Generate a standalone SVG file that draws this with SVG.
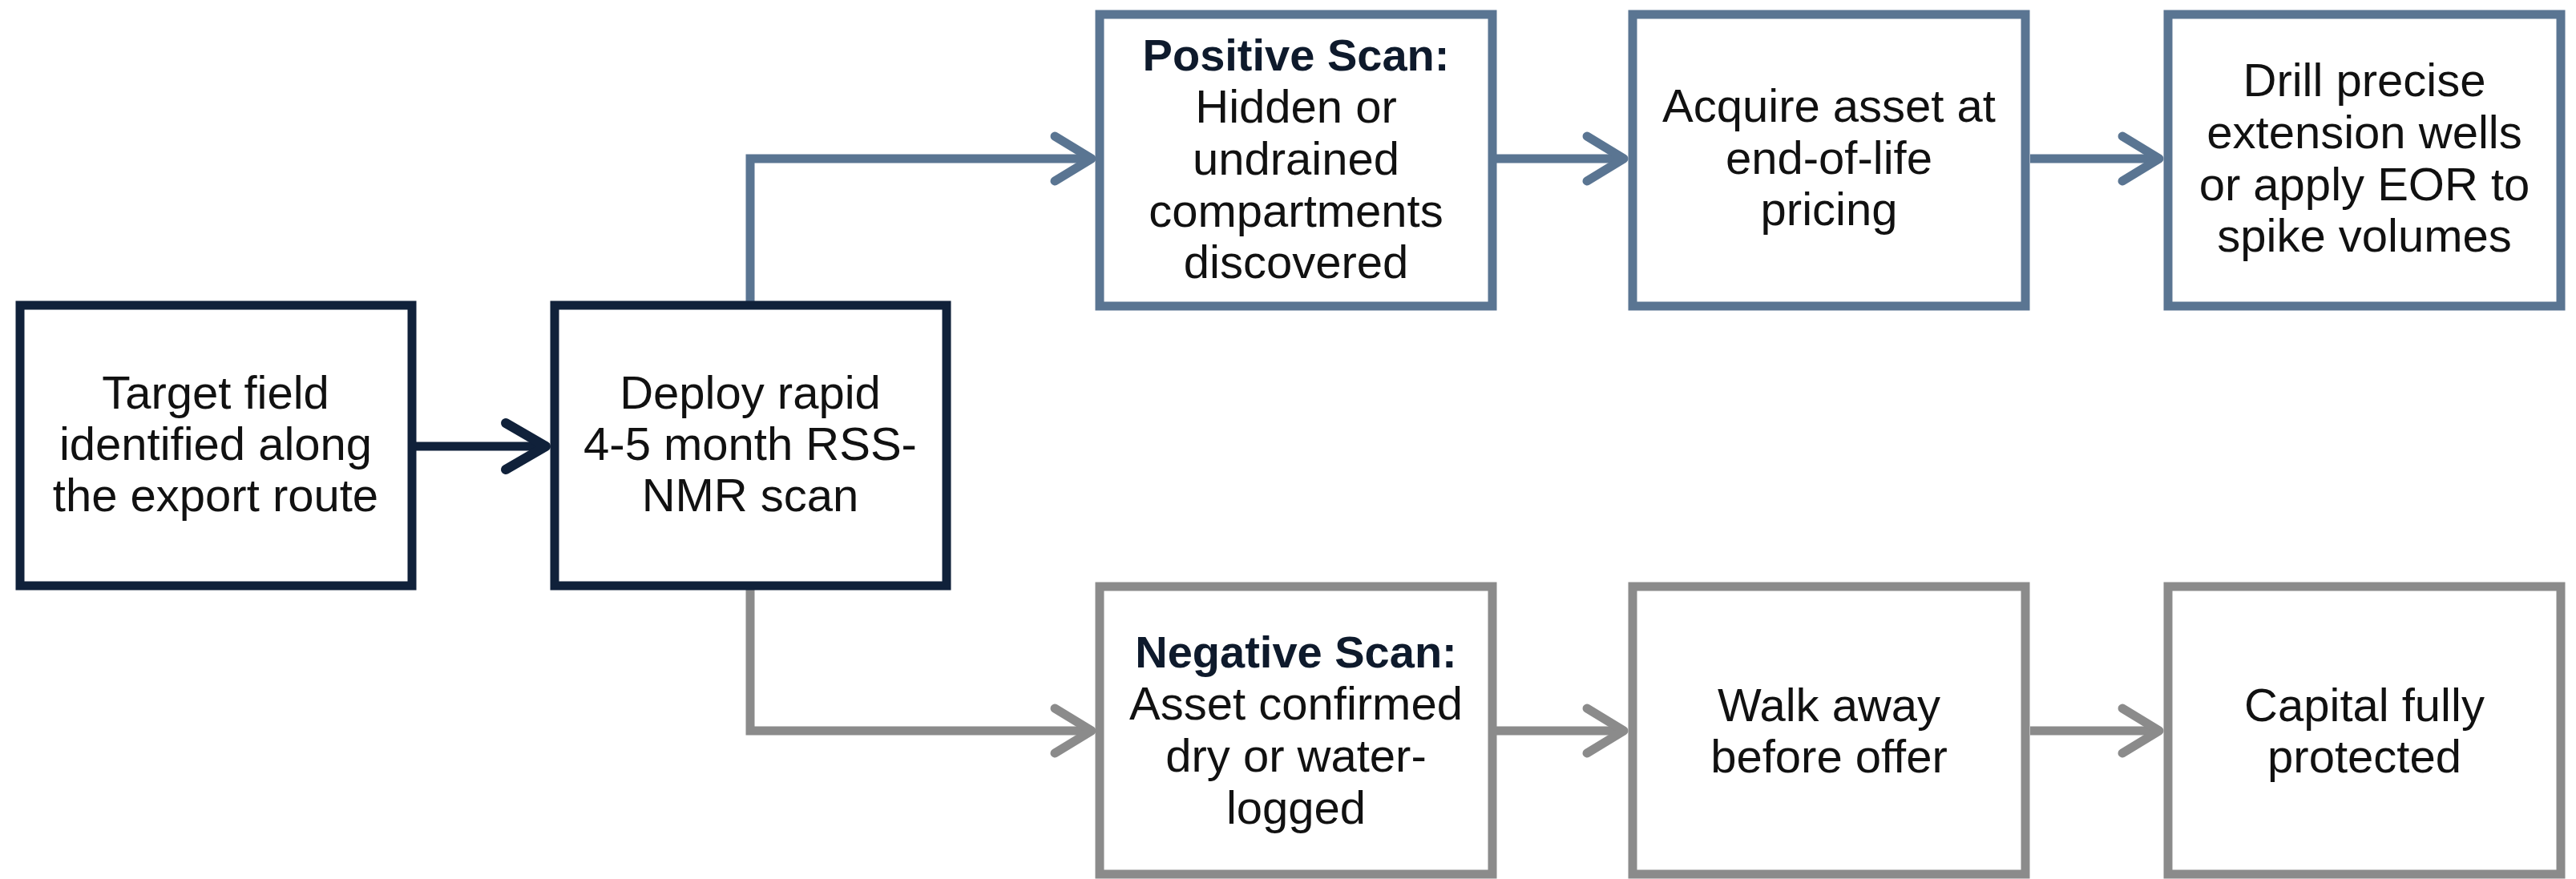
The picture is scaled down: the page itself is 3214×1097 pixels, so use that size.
<svg xmlns="http://www.w3.org/2000/svg" width="3214" height="1097" viewBox="0 0 3214 1097">
  <style>
    .box { fill: #ffffff; stroke-width: 11; }
    .navy { stroke: #10213a; }
    .steel { stroke: #5a7592; }
    .gray { stroke: #8b8b8b; }
    .conn { fill: none; stroke-width: 11; stroke-linejoin: miter; }
    .t { font-family: "Liberation Sans", Arial, Helvetica, sans-serif; font-size: 58px; fill: #111111; text-anchor: middle; }
    .b { font-weight: bold; font-size: 56px; fill: #0e1a2c; }
  </style>
  <defs>
    <marker id="ahNavy" markerUnits="userSpaceOnUse" viewBox="-60 -40 70 80" markerWidth="70" markerHeight="80" refX="0" refY="0" orient="auto" overflow="visible">
      <path d="M-50,-29 L0,0 L-50,29" fill="none" stroke="#10213a" stroke-width="12" stroke-linecap="round" stroke-linejoin="round"/>
    </marker>
    <marker id="ahSteel" markerUnits="userSpaceOnUse" viewBox="-60 -40 70 80" markerWidth="70" markerHeight="80" refX="0" refY="0" orient="auto" overflow="visible">
      <path d="M-46,-28 L0,0 L-46,28" fill="none" stroke="#5a7592" stroke-width="11" stroke-linecap="round" stroke-linejoin="round"/>
    </marker>
    <marker id="ahGray" markerUnits="userSpaceOnUse" viewBox="-60 -40 70 80" markerWidth="70" markerHeight="80" refX="0" refY="0" orient="auto" overflow="visible">
      <path d="M-46,-28 L0,0 L-46,28" fill="none" stroke="#8b8b8b" stroke-width="11" stroke-linecap="round" stroke-linejoin="round"/>
    </marker>
  </defs>
  <rect width="3214" height="1097" fill="#ffffff"/>

  <g id="connectors">
    <path class="conn navy" d="M519,557 H681" stroke-width="12" marker-end="url(#ahNavy)"/>
    <path class="conn steel" d="M936,381 V198 H1362" marker-end="url(#ahSteel)"/>
    <path class="conn gray" d="M936,731 V912 H1362" marker-end="url(#ahGray)"/>
    <path class="conn steel" d="M1867,198 H2026" marker-end="url(#ahSteel)"/>
    <path class="conn steel" d="M2533,198 H2694" marker-end="url(#ahSteel)"/>
    <path class="conn gray" d="M1867,912 H2026" marker-end="url(#ahGray)"/>
    <path class="conn gray" d="M2533,912 H2694" marker-end="url(#ahGray)"/>
  </g>

  <g id="target-field">
    <rect class="box navy" x="25" y="381" width="489" height="350"/>
    <text class="t" x="269" y="510">Target field</text>
    <text class="t" x="269" y="574">identified along</text>
    <text class="t" x="269" y="638">the export route</text>
  </g>

  <g id="deploy-scan">
    <rect class="box navy" x="692" y="381" width="489" height="350"/>
    <text class="t" x="936" y="510">Deploy rapid</text>
    <text class="t" x="936" y="574">4-5 month RSS-</text>
    <text class="t" x="936" y="638">NMR scan</text>
  </g>

  <g id="positive-scan">
    <rect class="box steel" x="1372" y="18" width="490" height="364"/>
    <text class="t b" x="1617" y="88">Positive Scan:</text>
    <text class="t" x="1617" y="153">Hidden or</text>
    <text class="t" x="1617" y="218">undrained</text>
    <text class="t" x="1617" y="283">compartments</text>
    <text class="t" x="1617" y="347">discovered</text>
  </g>

  <g id="acquire-asset">
    <rect class="box steel" x="2037" y="18" width="490" height="364"/>
    <text class="t" x="2282" y="152">Acquire asset at</text>
    <text class="t" x="2282" y="217">end-of-life</text>
    <text class="t" x="2282" y="281">pricing</text>
  </g>

  <g id="drill-wells">
    <rect class="box steel" x="2705" y="18" width="490" height="364"/>
    <text class="t" x="2950" y="120">Drill precise</text>
    <text class="t" x="2950" y="185">extension wells</text>
    <text class="t" x="2950" y="250">or apply EOR to</text>
    <text class="t" x="2950" y="314">spike volumes</text>
  </g>

  <g id="negative-scan">
    <rect class="box gray" x="1372" y="732" width="490" height="359"/>
    <text class="t b" x="1617" y="833">Negative Scan:</text>
    <text class="t" x="1617" y="898">Asset confirmed</text>
    <text class="t" x="1617" y="963">dry or water-</text>
    <text class="t" x="1617" y="1028">logged</text>
  </g>

  <g id="walk-away">
    <rect class="box gray" x="2037" y="732" width="490" height="359"/>
    <text class="t" x="2282" y="900">Walk away</text>
    <text class="t" x="2282" y="964">before offer</text>
  </g>

  <g id="capital-protected">
    <rect class="box gray" x="2705" y="732" width="490" height="359"/>
    <text class="t" x="2950" y="900">Capital fully</text>
    <text class="t" x="2950" y="964">protected</text>
  </g>
</svg>
